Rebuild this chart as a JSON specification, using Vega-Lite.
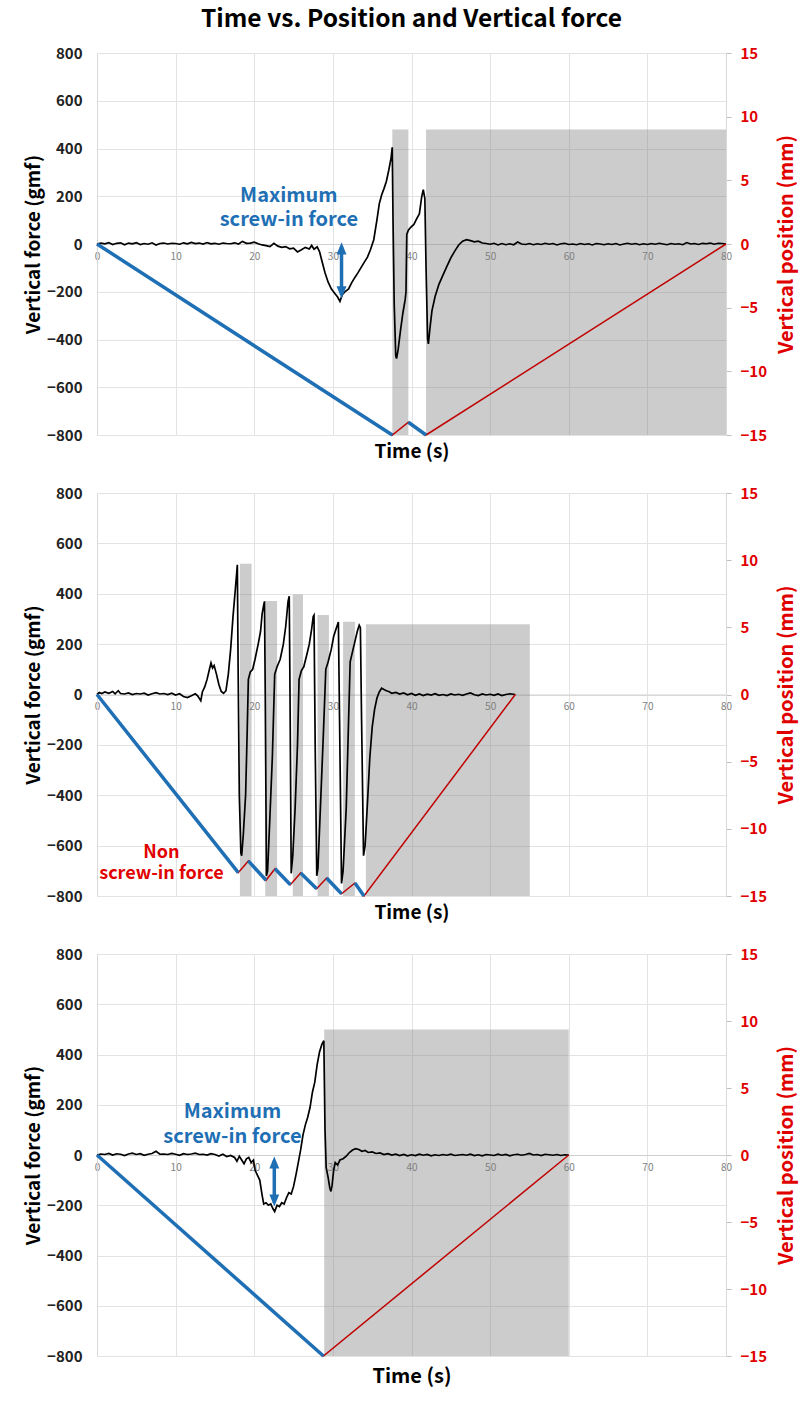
{
"$schema": "https://vega.github.io/schema/vega-lite/v6.json",
"padding": {"left": 24, "top": 6, "right": 3, "bottom": 5},
"title": {"text": "Time vs. Position and Vertical force", "fontSize": 24.5, "fontWeight": "bold", "font": "Noto Sans CJK KR", "color": "#000", "offset": 14, "anchor": "middle", "frame": "group"},
"config": {"view": {"stroke": null}, "font": "Noto Sans CJK KR"},
"spacing": 58,
"bounds": "flush",
"datasets": {
"r1": [{"t0":37.56,"t1":39.6,"top":480},{"t0":41.85,"t1":80,"top":480}],
"r2": [{"t0":18.18,"t1":19.66,"top":519},{"t0":21.4,"t1":22.9,"top":371},{"t0":24.9,"t1":26.2,"top":397},{"t0":28.05,"t1":29.5,"top":316},{"t0":31.3,"t1":32.8,"top":289},{"t0":34.2,"t1":55.05,"top":279}],
"r3": [{"t0":28.9,"t1":60,"top":500}],
"f1": [{"t":0,"f":0},{"t":0.5,"f":4},{"t":1,"f":1},{"t":1.5,"f":6},{"t":2,"f":-2},{"t":2.5,"f":3},{"t":3,"f":5},{"t":3.5,"f":-3},{"t":4,"f":4},{"t":4.5,"f":1},{"t":5,"f":6},{"t":5.5,"f":-2},{"t":6,"f":2},{"t":6.5,"f":-1},{"t":7,"f":5},{"t":7.5,"f":-4},{"t":8,"f":2},{"t":8.5,"f":4},{"t":9,"f":0},{"t":9.5,"f":3},{"t":10,"f":2},{"t":10.5,"f":-1},{"t":11,"f":5},{"t":11.5,"f":1},{"t":12,"f":7},{"t":12.5,"f":2},{"t":13,"f":4},{"t":13.5,"f":0},{"t":14,"f":6},{"t":14.5,"f":1},{"t":15,"f":3},{"t":15.5,"f":-1},{"t":16,"f":4},{"t":16.5,"f":2},{"t":17,"f":1},{"t":17.5,"f":5},{"t":18,"f":0},{"t":18.5,"f":11},{"t":19,"f":3},{"t":19.5,"f":4},{"t":20,"f":8},{"t":20.5,"f":1},{"t":21,"f":-4},{"t":21.5,"f":-7},{"t":22,"f":-11},{"t":22.5,"f":3},{"t":23,"f":-9},{"t":23.5,"f":-14},{"t":24,"f":-11},{"t":24.5,"f":-20},{"t":25,"f":-17},{"t":25.5,"f":-33},{"t":26,"f":-24},{"t":26.5,"f":-14},{"t":27,"f":-21},{"t":27.3,"f":-6},{"t":27.6,"f":-22},{"t":28,"f":-12},{"t":28.3,"f":-32},{"t":28.6,"f":-70},{"t":29,"f":-120},{"t":29.4,"f":-160},{"t":29.8,"f":-188},{"t":30.2,"f":-205},{"t":30.6,"f":-222},{"t":30.9,"f":-240},{"t":31.2,"f":-212},{"t":31.6,"f":-198},{"t":32,"f":-188},{"t":32.4,"f":-162},{"t":32.8,"f":-140},{"t":33.2,"f":-120},{"t":33.6,"f":-98},{"t":34,"f":-76},{"t":34.4,"f":-55},{"t":34.8,"f":-22},{"t":35.2,"f":18},{"t":35.6,"f":100},{"t":35.9,"f":168},{"t":36.2,"f":205},{"t":36.5,"f":232},{"t":36.8,"f":262},{"t":37.1,"f":308},{"t":37.4,"f":360},{"t":37.55,"f":405},{"t":37.65,"f":100},{"t":37.8,"f":-250},{"t":38,"f":-470},{"t":38.1,"f":-480},{"t":38.3,"f":-442},{"t":38.6,"f":-362},{"t":38.9,"f":-290},{"t":39.2,"f":-232},{"t":39.3,"f":-200},{"t":39.4,"f":40},{"t":39.6,"f":58},{"t":39.9,"f":70},{"t":40.3,"f":82},{"t":40.7,"f":108},{"t":41,"f":126},{"t":41.3,"f":198},{"t":41.5,"f":228},{"t":41.7,"f":190},{"t":41.85,"f":-100},{"t":42.05,"f":-398},{"t":42.15,"f":-418},{"t":42.35,"f":-352},{"t":42.6,"f":-280},{"t":43,"f":-220},{"t":43.5,"f":-168},{"t":44,"f":-130},{"t":44.5,"f":-94},{"t":45,"f":-58},{"t":45.5,"f":-30},{"t":46,"f":-4},{"t":46.5,"f":12},{"t":47,"f":18},{"t":47.5,"f":14},{"t":48,"f":9},{"t":48.5,"f":12},{"t":49,"f":4},{"t":49.5,"f":2},{"t":50,"f":-1},{"t":50.5,"f":3},{"t":51,"f":-4},{"t":51.5,"f":2},{"t":52,"f":-3},{"t":52.5,"f":1},{"t":53,"f":-3},{"t":53.5,"f":8},{"t":54,"f":0},{"t":54.5,"f":-2},{"t":55,"f":2},{"t":55.5,"f":-3},{"t":56,"f":1},{"t":56.5,"f":-2},{"t":57,"f":3},{"t":57.5,"f":-1},{"t":58,"f":2},{"t":58.5,"f":-4},{"t":59,"f":1},{"t":59.5,"f":3},{"t":60,"f":-2},{"t":60.5,"f":0},{"t":61,"f":-3},{"t":61.5,"f":2},{"t":62,"f":-2},{"t":62.5,"f":1},{"t":63,"f":-4},{"t":63.5,"f":2},{"t":64,"f":0},{"t":64.5,"f":-3},{"t":65,"f":1},{"t":65.5,"f":-2},{"t":66,"f":2},{"t":66.5,"f":-4},{"t":67,"f":0},{"t":67.5,"f":3},{"t":68,"f":-1},{"t":68.5,"f":2},{"t":69,"f":-3},{"t":69.5,"f":1},{"t":70,"f":-2},{"t":70.5,"f":2},{"t":71,"f":-1},{"t":71.5,"f":3},{"t":72,"f":0},{"t":72.5,"f":-3},{"t":73,"f":2},{"t":73.5,"f":-1},{"t":74,"f":1},{"t":74.5,"f":-3},{"t":75,"f":6},{"t":75.5,"f":0},{"t":76,"f":2},{"t":76.5,"f":-2},{"t":77,"f":3},{"t":77.5,"f":1},{"t":78,"f":4},{"t":78.5,"f":-1},{"t":79,"f":3},{"t":79.5,"f":2},{"t":80,"f":0}],
"f2": [{"t":0,"f":0},{"t":0.3,"f":8},{"t":0.6,"f":4},{"t":1,"f":10},{"t":1.5,"f":5},{"t":2,"f":12},{"t":2.3,"f":3},{"t":2.7,"f":15},{"t":3,"f":4},{"t":3.5,"f":2},{"t":4,"f":6},{"t":4.5,"f":0},{"t":5,"f":4},{"t":5.5,"f":2},{"t":6,"f":5},{"t":6.5,"f":-2},{"t":7,"f":3},{"t":7.5,"f":7},{"t":8,"f":2},{"t":8.5,"f":4},{"t":9,"f":0},{"t":9.5,"f":5},{"t":10,"f":-2},{"t":10.5,"f":3},{"t":11,"f":-8},{"t":11.5,"f":-12},{"t":12,"f":-5},{"t":12.5,"f":3},{"t":12.8,"f":-5},{"t":13.2,"f":-25},{"t":13.4,"f":10},{"t":13.7,"f":30},{"t":14,"f":60},{"t":14.3,"f":100},{"t":14.5,"f":125},{"t":14.7,"f":105},{"t":14.9,"f":115},{"t":15.2,"f":80},{"t":15.5,"f":40},{"t":15.8,"f":12},{"t":16.1,"f":5},{"t":16.4,"f":15},{"t":16.7,"f":80},{"t":17,"f":180},{"t":17.3,"f":310},{"t":17.6,"f":420},{"t":17.85,"f":515},{"t":17.95,"f":100},{"t":18.1,"f":-400},{"t":18.3,"f":-630},{"t":18.4,"f":-640},{"t":18.6,"f":-560},{"t":18.9,"f":-400},{"t":19.1,"f":-150},{"t":19.25,"f":60},{"t":19.5,"f":90},{"t":19.8,"f":100},{"t":20.1,"f":140},{"t":20.5,"f":200},{"t":20.8,"f":250},{"t":21,"f":320},{"t":21.2,"f":355},{"t":21.3,"f":370},{"t":21.4,"f":0},{"t":21.55,"f":-720},{"t":21.7,"f":-700},{"t":22,"f":-480},{"t":22.3,"f":-250},{"t":22.6,"f":80},{"t":22.9,"f":110},{"t":23.3,"f":140},{"t":23.7,"f":200},{"t":24,"f":270},{"t":24.3,"f":370},{"t":24.45,"f":390},{"t":24.55,"f":0},{"t":24.7,"f":-710},{"t":24.9,"f":-640},{"t":25.2,"f":-450},{"t":25.5,"f":-200},{"t":25.7,"f":60},{"t":26,"f":95},{"t":26.3,"f":110},{"t":26.7,"f":160},{"t":27,"f":200},{"t":27.3,"f":260},{"t":27.5,"f":310},{"t":27.6,"f":315},{"t":27.75,"f":-200},{"t":27.95,"f":-720},{"t":28.1,"f":-690},{"t":28.4,"f":-460},{"t":28.8,"f":-150},{"t":29.1,"f":100},{"t":29.4,"f":130},{"t":29.8,"f":180},{"t":30.1,"f":230},{"t":30.4,"f":260},{"t":30.7,"f":288},{"t":30.85,"f":-100},{"t":31.1,"f":-750},{"t":31.3,"f":-700},{"t":31.7,"f":-450},{"t":32,"f":-100},{"t":32.2,"f":130},{"t":32.5,"f":170},{"t":32.8,"f":210},{"t":33.1,"f":250},{"t":33.35,"f":275},{"t":33.5,"f":265},{"t":33.65,"f":-100},{"t":33.9,"f":-640},{"t":34.1,"f":-600},{"t":34.4,"f":-430},{"t":34.7,"f":-250},{"t":35,"f":-130},{"t":35.3,"f":-60},{"t":35.6,"f":-15},{"t":35.9,"f":10},{"t":36.2,"f":25},{"t":36.5,"f":20},{"t":36.8,"f":15},{"t":37.1,"f":12},{"t":37.5,"f":5},{"t":38,"f":8},{"t":38.5,"f":2},{"t":39,"f":6},{"t":39.5,"f":-1},{"t":40,"f":4},{"t":40.5,"f":-3},{"t":41,"f":2},{"t":41.5,"f":-4},{"t":42,"f":1},{"t":42.5,"f":-2},{"t":43,"f":3},{"t":43.5,"f":-3},{"t":44,"f":0},{"t":44.5,"f":-4},{"t":45,"f":2},{"t":45.5,"f":-2},{"t":46,"f":1},{"t":46.5,"f":-3},{"t":47,"f":2},{"t":47.5,"f":6},{"t":48,"f":-1},{"t":48.5,"f":-4},{"t":49,"f":2},{"t":49.5,"f":-2},{"t":50,"f":1},{"t":50.5,"f":-3},{"t":51,"f":2},{"t":51.5,"f":-4},{"t":52,"f":0},{"t":52.5,"f":3},{"t":53.2,"f":0}],
"f3": [{"t":0,"f":0},{"t":0.5,"f":4},{"t":1,"f":2},{"t":1.5,"f":6},{"t":2,"f":0},{"t":2.5,"f":5},{"t":3,"f":3},{"t":3.5,"f":-2},{"t":4,"f":4},{"t":4.5,"f":7},{"t":5,"f":2},{"t":5.5,"f":5},{"t":6,"f":-1},{"t":6.5,"f":3},{"t":7,"f":6},{"t":7.5,"f":15},{"t":8,"f":3},{"t":8.5,"f":4},{"t":9,"f":2},{"t":9.5,"f":6},{"t":10,"f":3},{"t":10.5,"f":-1},{"t":11,"f":5},{"t":11.5,"f":2},{"t":12,"f":4},{"t":12.5,"f":7},{"t":13,"f":2},{"t":13.5,"f":3},{"t":14,"f":0},{"t":14.5,"f":5},{"t":15,"f":2},{"t":15.5,"f":-4},{"t":16,"f":3},{"t":16.5,"f":-6},{"t":17,"f":-2},{"t":17.5,"f":-10},{"t":17.8,"f":-25},{"t":18.1,"f":-5},{"t":18.4,"f":-20},{"t":18.7,"f":-35},{"t":19,"f":-15},{"t":19.3,"f":-10},{"t":19.6,"f":-30},{"t":19.9,"f":-20},{"t":20.1,"f":-60},{"t":20.4,"f":-80},{"t":20.7,"f":-100},{"t":21,"f":-160},{"t":21.2,"f":-195},{"t":21.5,"f":-190},{"t":21.8,"f":-200},{"t":22.1,"f":-195},{"t":22.4,"f":-215},{"t":22.6,"f":-225},{"t":22.9,"f":-200},{"t":23.2,"f":-205},{"t":23.5,"f":-190},{"t":23.8,"f":-195},{"t":24.1,"f":-170},{"t":24.4,"f":-150},{"t":24.7,"f":-155},{"t":25,"f":-125},{"t":25.3,"f":-80},{"t":25.6,"f":-30},{"t":25.9,"f":20},{"t":26.2,"f":80},{"t":26.5,"f":120},{"t":26.8,"f":150},{"t":27.1,"f":190},{"t":27.4,"f":250},{"t":27.7,"f":290},{"t":28,"f":360},{"t":28.3,"f":410},{"t":28.6,"f":440},{"t":28.85,"f":455},{"t":29,"f":100},{"t":29.15,"f":-50},{"t":29.4,"f":-90},{"t":29.6,"f":-130},{"t":29.75,"f":-145},{"t":29.9,"f":-120},{"t":30.1,"f":-60},{"t":30.3,"f":-30},{"t":30.6,"f":-40},{"t":30.9,"f":-20},{"t":31.3,"f":-15},{"t":31.7,"f":-5},{"t":32.1,"f":10},{"t":32.5,"f":20},{"t":32.9,"f":25},{"t":33.3,"f":22},{"t":33.7,"f":15},{"t":34.1,"f":18},{"t":34.5,"f":10},{"t":35,"f":12},{"t":35.5,"f":6},{"t":36,"f":8},{"t":36.5,"f":2},{"t":37,"f":5},{"t":37.5,"f":0},{"t":38,"f":3},{"t":38.5,"f":-2},{"t":39,"f":2},{"t":39.5,"f":-3},{"t":40,"f":1},{"t":40.5,"f":-2},{"t":41,"f":3},{"t":41.5,"f":-1},{"t":42,"f":2},{"t":42.5,"f":-3},{"t":43,"f":1},{"t":43.5,"f":-2},{"t":44,"f":2},{"t":44.5,"f":-1},{"t":45,"f":3},{"t":45.5,"f":-2},{"t":46,"f":0},{"t":46.5,"f":2},{"t":47,"f":-1},{"t":47.5,"f":3},{"t":48,"f":-2},{"t":48.5,"f":1},{"t":49,"f":-3},{"t":49.5,"f":2},{"t":50,"f":0},{"t":50.5,"f":-2},{"t":51,"f":3},{"t":51.5,"f":-1},{"t":52,"f":2},{"t":52.5,"f":-3},{"t":53,"f":1},{"t":53.5,"f":3},{"t":54,"f":-1},{"t":54.5,"f":2},{"t":55,"f":6},{"t":55.5,"f":0},{"t":56,"f":2},{"t":56.5,"f":-2},{"t":57,"f":3},{"t":57.5,"f":1},{"t":58,"f":-1},{"t":58.5,"f":2},{"t":59,"f":-2},{"t":59.5,"f":1},{"t":60,"f":0}],
"p1": [{"t":0,"p":0},{"t":37.56,"p":-15},{"t":39.6,"p":-14},{"t":41.85,"p":-15},{"t":80,"p":0}],
"b1": [{"t":0,"p":0,"seg":"a"},{"t":37.56,"p":-15,"seg":"a"},{"t":39.6,"p":-14,"seg":"b"},{"t":41.85,"p":-15,"seg":"b"}],
"p2": [{"t":0,"p":0},{"t":17.97,"p":-13.26},{"t":19.25,"p":-12.39},{"t":21.5,"p":-13.83},{"t":22.64,"p":-12.97},{"t":24.6,"p":-14.16},{"t":25.9,"p":-13.28},{"t":27.94,"p":-14.46},{"t":29.2,"p":-13.66},{"t":31.1,"p":-14.83},{"t":32.8,"p":-14.03},{"t":33.96,"p":-15},{"t":53.2,"p":0}],
"b2": [{"t":0,"p":0,"seg":"a"},{"t":17.97,"p":-13.26,"seg":"a"},{"t":19.25,"p":-12.39,"seg":"b"},{"t":21.5,"p":-13.83,"seg":"b"},{"t":22.64,"p":-12.97,"seg":"c"},{"t":24.6,"p":-14.16,"seg":"c"},{"t":25.9,"p":-13.28,"seg":"d"},{"t":27.94,"p":-14.46,"seg":"d"},{"t":29.2,"p":-13.66,"seg":"e"},{"t":31.1,"p":-14.83,"seg":"e"},{"t":32.8,"p":-14.03,"seg":"f"},{"t":33.96,"p":-15,"seg":"f"}],
"p3": [{"t":0,"p":0},{"t":28.8,"p":-15},{"t":60,"p":0}],
"b3": [{"t":0,"p":0,"seg":"a"},{"t":28.8,"p":-15,"seg":"a"}],
"a1": [{"t":31.1,"y1":-12,"y2":-212}],
"h1": [{"t":31.1,"f":7,"dir":"up"},{"t":31.1,"f":-228,"dir":"down"}],
"a3": [{"t":22.55,"y1":-22,"y2":-190}],
"h3": [{"t":22.55,"f":-6,"dir":"up"},{"t":22.55,"f":-205,"dir":"down"}],
"t1": [{"t":24.4,"f":178,"text":"Maximum\nscrew-in force"}],
"t2": [{"t":8.2,"f":-651,"text":"Non\nscrew-in force"}],
"t3": [{"t":17.23,"f":149,"text":"Maximum\nscrew-in force"}]
},
"vconcat": [
{
"width": 629, "height": 382,
"resolve": {"scale": {"y": "independent"}},
"layer": [
{"layer": [
{"data": {"name": "r1"}, "mark": {"type": "rect", "color": "#7f7f7f", "opacity": 0.4},
 "encoding": {
  "x": {"field": "t0", "type": "quantitative", "scale": {"domain": [0, 80], "nice": false},
        "axis": {"values": [0,10,20,30,40,50,60,70,80], "offset": -191, "labelFlush": false, "labelColor": "#808080", "labelFontSize": 10, "labelPadding": 7, "ticks": false, "domainColor": "#cfcfcf", "grid": true, "gridColor": "#e3e3e3", "title": "Time (s)", "titleFontSize": 19, "titleFontWeight": "bold", "titleColor": "#000", "titleBaseline": "alphabetic", "titleY": 213}},
  "x2": {"field": "t1"},
  "y": {"field": "top", "type": "quantitative", "scale": {"domain": [-800, 800], "nice": false},
        "axis": {"orient": "left", "values": [-800,-600,-400,-200,0,200,400,600,800], "labelFontSize": 15, "labelFontWeight": "bold", "labelColor": "#222", "labelPadding": 15, "ticks": false, "domainColor": "#d9d9d9", "grid": true, "gridColor": "#e3e3e3", "title": "Vertical force (gmf)", "titleFontSize": 19, "titleFontWeight": "bold", "titleColor": "#000", "titlePadding": 3}},
  "y2": {"datum": -800}
 }},
{"data": {"name": "f1"}, "mark": {"type": "line", "color": "#000", "strokeWidth": 1.7},
 "encoding": {"x": {"field": "t", "type": "quantitative"}, "y": {"field": "f", "type": "quantitative"}}},
{"data": {"name": "a1"}, "mark": {"type": "rule", "color": "#1f6fb5", "strokeWidth": 3.5},
 "encoding": {"x": {"field": "t", "type": "quantitative"}, "y": {"field": "y1", "type": "quantitative"}, "y2": {"field": "y2"}}},
{"data": {"name": "h1"}, "mark": {"type": "point", "filled": true, "color": "#1f6fb5", "opacity": 1, "size": 121},
 "encoding": {"x": {"field": "t", "type": "quantitative"}, "y": {"field": "f", "type": "quantitative"},
  "shape": {"field": "dir", "type": "nominal", "scale": {"domain": ["up", "down"], "range": ["M0,0L-0.9,2.2L0.9,2.2Z", "M0,0L-0.9,-2.2L0.9,-2.2Z"]}, "legend": null}}},
{"data": {"name": "t1"}, "mark": {"type": "text", "color": "#1f6fb5", "fontSize": 20, "fontWeight": "bold", "align": "center", "baseline": "alphabetic", "lineBreak": "\n", "lineHeight": 24},
 "encoding": {"x": {"field": "t", "type": "quantitative"}, "y": {"field": "f", "type": "quantitative"}, "text": {"field": "text"}}}
]},
{"layer": [
{"data": {"name": "p1"}, "mark": {"type": "line", "color": "#c00000", "strokeWidth": 1.5},
 "encoding": {"x": {"field": "t", "type": "quantitative"},
  "y": {"field": "p", "type": "quantitative", "scale": {"domain": [-15, 15], "nice": false},
        "axis": {"orient": "right", "values": [-15,-10,-5,0,5,10,15], "labelColor": "#e00000", "labelFontSize": 15, "labelFontWeight": "bold", "labelPadding": 9, "ticks": true, "tickColor": "#bfbfbf", "tickSize": 5, "domainColor": "#d9d9d9", "grid": false, "title": "Vertical position (mm)", "titleColor": "#e00000", "titleFontSize": 20, "titleFontWeight": "bold", "titleAngle": 270, "titleBaseline": "top", "titlePadding": 10}}}},
{"data": {"name": "b1"}, "mark": {"type": "line", "color": "#1f6fb5", "strokeWidth": 3.5},
 "encoding": {"x": {"field": "t", "type": "quantitative"}, "y": {"field": "p", "type": "quantitative"}, "detail": {"field": "seg"}}}
]}
]
},
{
"width": 629, "height": 403,
"resolve": {"scale": {"y": "independent"}},
"layer": [
{"layer": [
{"data": {"name": "r2"}, "mark": {"type": "rect", "color": "#7f7f7f", "opacity": 0.4},
 "encoding": {
  "x": {"field": "t0", "type": "quantitative", "scale": {"domain": [0, 80], "nice": false},
        "axis": {"values": [0,10,20,30,40,50,60,70,80], "offset": -201.5, "labelFlush": false, "labelColor": "#808080", "labelFontSize": 10, "labelPadding": 7, "ticks": false, "domainColor": "#cfcfcf", "grid": true, "gridColor": "#e3e3e3", "title": "Time (s)", "titleFontSize": 19, "titleFontWeight": "bold", "titleColor": "#000", "titleBaseline": "alphabetic", "titleY": 223.5}},
  "x2": {"field": "t1"},
  "y": {"field": "top", "type": "quantitative", "scale": {"domain": [-800, 800], "nice": false},
        "axis": {"orient": "left", "values": [-800,-600,-400,-200,0,200,400,600,800], "labelFontSize": 15, "labelFontWeight": "bold", "labelColor": "#222", "labelPadding": 15, "ticks": false, "domainColor": "#d9d9d9", "grid": true, "gridColor": "#e3e3e3", "title": "Vertical force (gmf)", "titleFontSize": 19, "titleFontWeight": "bold", "titleColor": "#000", "titlePadding": 3}},
  "y2": {"datum": -800}
 }},
{"data": {"name": "f2"}, "mark": {"type": "line", "color": "#000", "strokeWidth": 1.7},
 "encoding": {"x": {"field": "t", "type": "quantitative"}, "y": {"field": "f", "type": "quantitative"}}},
{"data": {"name": "t2"}, "mark": {"type": "text", "color": "#e00000", "fontSize": 18, "fontWeight": "bold", "align": "center", "baseline": "alphabetic", "lineBreak": "\n", "lineHeight": 21},
 "encoding": {"x": {"field": "t", "type": "quantitative"}, "y": {"field": "f", "type": "quantitative"}, "text": {"field": "text"}}}
]},
{"layer": [
{"data": {"name": "p2"}, "mark": {"type": "line", "color": "#c00000", "strokeWidth": 1.5},
 "encoding": {"x": {"field": "t", "type": "quantitative"},
  "y": {"field": "p", "type": "quantitative", "scale": {"domain": [-15, 15], "nice": false},
        "axis": {"orient": "right", "values": [-15,-10,-5,0,5,10,15], "labelColor": "#e00000", "labelFontSize": 15, "labelFontWeight": "bold", "labelPadding": 9, "ticks": true, "tickColor": "#bfbfbf", "tickSize": 5, "domainColor": "#d9d9d9", "grid": false, "title": "Vertical position (mm)", "titleColor": "#e00000", "titleFontSize": 20, "titleFontWeight": "bold", "titleAngle": 270, "titleBaseline": "top", "titlePadding": 10}}}},
{"data": {"name": "b2"}, "mark": {"type": "line", "color": "#1f6fb5", "strokeWidth": 3.5},
 "encoding": {"x": {"field": "t", "type": "quantitative"}, "y": {"field": "p", "type": "quantitative"}, "detail": {"field": "seg"}}}
]}
]
},
{
"width": 629, "height": 402,
"resolve": {"scale": {"y": "independent"}},
"layer": [
{"layer": [
{"data": {"name": "r3"}, "mark": {"type": "rect", "color": "#7f7f7f", "opacity": 0.4},
 "encoding": {
  "x": {"field": "t0", "type": "quantitative", "scale": {"domain": [0, 80], "nice": false},
        "axis": {"values": [0,10,20,30,40,50,60,70,80], "offset": -201, "labelFlush": false, "labelColor": "#808080", "labelFontSize": 10, "labelPadding": 7, "ticks": false, "domainColor": "#cfcfcf", "grid": true, "gridColor": "#e3e3e3", "title": "Time (s)", "titleFontSize": 20, "titleFontWeight": "bold", "titleColor": "#000", "titleBaseline": "alphabetic", "titleY": 227}},
  "x2": {"field": "t1"},
  "y": {"field": "top", "type": "quantitative", "scale": {"domain": [-800, 800], "nice": false},
        "axis": {"orient": "left", "values": [-800,-600,-400,-200,0,200,400,600,800], "labelFontSize": 15, "labelFontWeight": "bold", "labelColor": "#222", "labelPadding": 15, "ticks": false, "domainColor": "#d9d9d9", "grid": true, "gridColor": "#e3e3e3", "title": "Vertical force (gmf)", "titleFontSize": 19, "titleFontWeight": "bold", "titleColor": "#000", "titlePadding": 3}},
  "y2": {"datum": -800}
 }},
{"data": {"name": "f3"}, "mark": {"type": "line", "color": "#000", "strokeWidth": 1.7},
 "encoding": {"x": {"field": "t", "type": "quantitative"}, "y": {"field": "f", "type": "quantitative"}}},
{"data": {"name": "a3"}, "mark": {"type": "rule", "color": "#1f6fb5", "strokeWidth": 3.5},
 "encoding": {"x": {"field": "t", "type": "quantitative"}, "y": {"field": "y1", "type": "quantitative"}, "y2": {"field": "y2"}}},
{"data": {"name": "h3"}, "mark": {"type": "point", "filled": true, "color": "#1f6fb5", "opacity": 1, "size": 121},
 "encoding": {"x": {"field": "t", "type": "quantitative"}, "y": {"field": "f", "type": "quantitative"},
  "shape": {"field": "dir", "type": "nominal", "scale": {"domain": ["up", "down"], "range": ["M0,0L-0.9,2.2L0.9,2.2Z", "M0,0L-0.9,-2.2L0.9,-2.2Z"]}, "legend": null}}},
{"data": {"name": "t3"}, "mark": {"type": "text", "color": "#1f6fb5", "fontSize": 20, "fontWeight": "bold", "align": "center", "baseline": "alphabetic", "lineBreak": "\n", "lineHeight": 25},
 "encoding": {"x": {"field": "t", "type": "quantitative"}, "y": {"field": "f", "type": "quantitative"}, "text": {"field": "text"}}}
]},
{"layer": [
{"data": {"name": "p3"}, "mark": {"type": "line", "color": "#c00000", "strokeWidth": 1.5},
 "encoding": {"x": {"field": "t", "type": "quantitative"},
  "y": {"field": "p", "type": "quantitative", "scale": {"domain": [-15, 15], "nice": false},
        "axis": {"orient": "right", "values": [-15,-10,-5,0,5,10,15], "labelColor": "#e00000", "labelFontSize": 15, "labelFontWeight": "bold", "labelPadding": 9, "ticks": true, "tickColor": "#bfbfbf", "tickSize": 5, "domainColor": "#d9d9d9", "grid": false, "title": "Vertical position (mm)", "titleColor": "#e00000", "titleFontSize": 20, "titleFontWeight": "bold", "titleAngle": 270, "titleBaseline": "top", "titlePadding": 10}}}},
{"data": {"name": "b3"}, "mark": {"type": "line", "color": "#1f6fb5", "strokeWidth": 3.5},
 "encoding": {"x": {"field": "t", "type": "quantitative"}, "y": {"field": "p", "type": "quantitative"}, "detail": {"field": "seg"}}}
]}
]
}
]
}
